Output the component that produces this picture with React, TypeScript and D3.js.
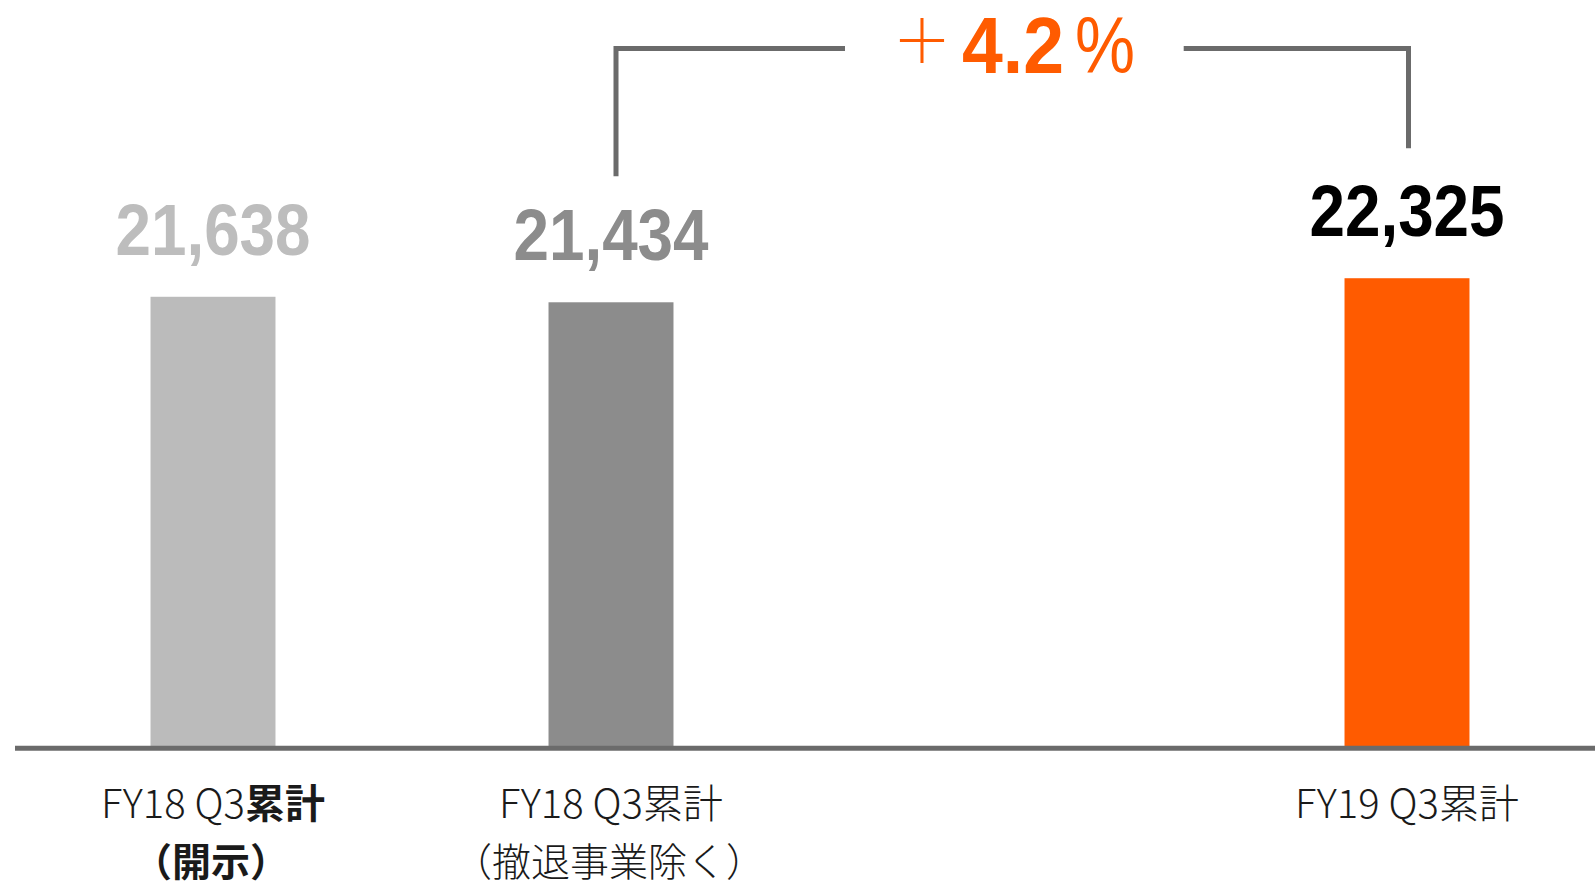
import React from "react";
import * as d3 from "d3";

const categories = ["FY18 Q3累計（開示）", "FY18 Q3累計（撤退事業除く）", "", "FY19 Q3累計"];
const labelLine1 = ["FY18 Q3", "FY18 Q3累計", "", "FY19 Q3累計"];
const labelLine1Bold = ["累計", "", "", ""];
const labelLine2 = ["（開示）", "（撤退事業除く）", "", ""];
const labelLine2Bold = [true, false, false, false];
const values: (number | null)[] = [21638, 21434, null, 22325];
const barColors = ["#BBBBBB", "#8C8C8C", "none", "#FF5B00"];
const valueColors = ["#BDBDBD", "#8C8C8C", "none", "#000000"];
const compareFrom = 1;
const compareTo = 3;

const W = 1595;
const H = 884;

export default function App() {
  const x = d3
    .scaleBand<string>()
    .domain(categories)
    .range([14, 1606])
    .paddingInner(0.686)
    .paddingOuter(0.343);
  const y = d3.scaleLinear().domain([5000, 25000]).range([746, 206]);
  const bw = x.bandwidth();
  const fmt = d3.format(",");
  const pct = d3.format(".1f");

  const cx = (i: number) => (x(categories[i]) as number) + bw / 2;
  const growth = ((values[compareTo] as number) / (values[compareFrom] as number) - 1) * 100;

  const leftX = cx(compareFrom) + 5;
  const rightX = cx(compareTo) + 1.5;
  const bracketY = 48.5;
  const leftBottom = y(values[compareFrom] as number) - 126;
  const rightBottom = y(values[compareTo] as number) - 130;

  return (
    <svg
      width={W}
      height={H}
      style={{ position: "absolute", left: 0, top: 0, display: "block", background: "#fff" }}
    >
      {/* bars */}
      {values.map((v, i) =>
        v == null ? null : (
          <rect
            key={"b" + i}
            x={x(categories[i])}
            y={y(v)}
            width={bw}
            height={y(5000) - y(v)}
            fill={barColors[i]}
          />
        )
      )}
      {/* baseline */}
      <line x1={15} x2={W} y1={748.3} y2={748.3} stroke="#6B6B6B" strokeWidth={5} />

      {/* value labels */}
      {values.map((v, i) =>
        v == null ? null : (
          <text
            key={"v" + i}
            x={cx(i)}
            y={y(v) - 42}
            textAnchor="middle"
            fontFamily="'Liberation Sans Narrow', 'Liberation Sans', Arial, sans-serif"
            fontWeight={700}
            fontSize={72}
            fill={valueColors[i]}
            textLength={195}
            lengthAdjust="spacingAndGlyphs"
          >
            {fmt(v)}
          </text>
        )
      )}

      {/* category labels */}
      {categories.map((c, i) =>
        c === "" ? null : (
          <g key={"c" + i} fontFamily="'Noto Sans CJK JP', 'Noto Sans', sans-serif" fill="#1A1A1A">
            <text x={cx(i)} y={818} textAnchor="middle" fontSize={40} fontWeight={300}>
              {labelLine1[i]}
              {labelLine1Bold[i] ? <tspan fontWeight={700}>{labelLine1Bold[i]}</tspan> : null}
            </text>
            {labelLine2[i] ? (
              <text
                x={cx(i) - 2}
                y={876}
                textAnchor="middle"
                fontSize={39}
                fontWeight={labelLine2Bold[i] ? 700 : 300}
              >
                {labelLine2[i]}
              </text>
            ) : null}
          </g>
        )
      )}

      {/* comparison bracket */}
      <path
        d={`M${leftX},${leftBottom}V${bracketY}H845M1183.7,${bracketY}H${rightX}V${rightBottom}`}
        fill="none"
        stroke="#6B6B6B"
        strokeWidth={5}
        strokeLinejoin="miter"
        strokeLinecap="butt"
      />
      <text
        x={922}
        y={63}
        textAnchor="middle"
        fontFamily="'Noto Sans CJK JP', sans-serif"
        fontWeight={300}
        fontSize={60}
        fill="#FF5B00"
      >
        ＋
      </text>
      <text
        x={962}
        y={73}
        fontFamily="'Liberation Sans Narrow', 'Liberation Sans', Arial, sans-serif"
        fontWeight={700}
        fontSize={80}
        fill="#FF5B00"
        textLength={102}
        lengthAdjust="spacingAndGlyphs"
      >
        {pct(growth)}
      </text>
      <text
        x={1075}
        y={73}
        fontFamily="'Liberation Sans Narrow', 'Liberation Sans', Arial, sans-serif"
        fontWeight={400}
        fontSize={80}
        fill="#FF5B00"
        textLength={60}
        lengthAdjust="spacingAndGlyphs"
      >
        %
      </text>
    </svg>
  );
}
